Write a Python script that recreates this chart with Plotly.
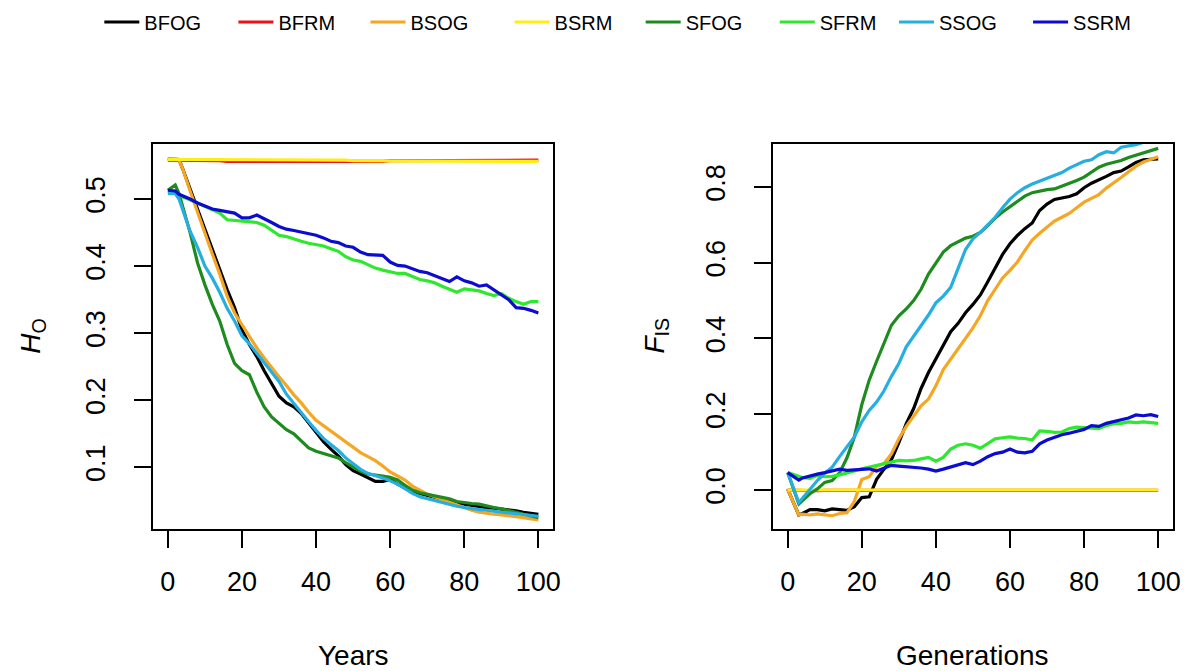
import plotly.graph_objects as go

# ---------------- data ----------------
X = [0, 2, 3, 4, 6, 8, 10, 12, 14, 16, 18, 20, 22, 24, 26, 28, 30, 32, 34, 36, 38, 40,
     42, 44, 46, 48, 50, 52, 54, 56, 58, 60, 62, 64, 66, 68, 70, 72, 74, 76, 78, 80,
     82, 84, 86, 88, 90, 92, 94, 96, 98, 100]

series_names = ["BFOG", "BFRM", "BSOG", "BSRM", "SFOG", "SFRM", "SSOG", "SSRM"]
series_colors = ["#000000", "#EE1111", "#F5A623", "#FFEE11", "#1E8B1E", "#2EE82E", "#26AEE0", "#0C0CD0"]

# Left panel: observed heterozygosity (Years)
ho_BFOG = [0.560, 0.560, 0.559, 0.545, 0.515, 0.484, 0.454, 0.424, 0.394, 0.365, 0.338, 0.305,
           0.283, 0.265, 0.244, 0.224, 0.206, 0.196, 0.190, 0.180, 0.166, 0.152, 0.138, 0.127,
           0.117, 0.104, 0.095, 0.090, 0.084, 0.079, 0.079, 0.082, 0.075, 0.069, 0.064, 0.061,
           0.058, 0.055, 0.052, 0.049, 0.047, 0.045, 0.043, 0.041, 0.040, 0.039, 0.038, 0.036,
           0.035, 0.033, 0.031, 0.030]
ho_BFRM = [0.558, 0.558, 0.558, 0.557, 0.557, 0.557, 0.557, 0.557, 0.557, 0.556, 0.556, 0.556,
           0.556, 0.556, 0.556, 0.555, 0.555, 0.555, 0.555, 0.555, 0.555, 0.556, 0.555, 0.555,
           0.556, 0.556, 0.556, 0.556, 0.556, 0.556, 0.556, 0.557, 0.557, 0.557, 0.557, 0.557,
           0.557, 0.557, 0.557, 0.557, 0.557, 0.557, 0.558, 0.558, 0.558, 0.558, 0.558, 0.558,
           0.558, 0.558, 0.558, 0.558]
ho_BSOG = [0.560, 0.560, 0.558, 0.545, 0.512, 0.480, 0.450, 0.418, 0.388, 0.355, 0.330, 0.312,
           0.294, 0.278, 0.263, 0.248, 0.235, 0.222, 0.208, 0.196, 0.182, 0.170, 0.162, 0.155,
           0.147, 0.138, 0.130, 0.122, 0.116, 0.110, 0.102, 0.093, 0.087, 0.081, 0.072, 0.066,
           0.060, 0.056, 0.052, 0.047, 0.043, 0.040, 0.036, 0.033, 0.031, 0.030, 0.029, 0.028,
           0.026, 0.025, 0.023, 0.022]
ho_BSRM = [0.559, 0.559, 0.559, 0.559, 0.559, 0.559, 0.559, 0.559, 0.558, 0.558, 0.558, 0.558,
           0.558, 0.558, 0.558, 0.558, 0.558, 0.558, 0.558, 0.558, 0.558, 0.558, 0.558, 0.558,
           0.558, 0.558, 0.557, 0.557, 0.557, 0.557, 0.557, 0.557, 0.557, 0.557, 0.557, 0.557,
           0.557, 0.557, 0.557, 0.557, 0.557, 0.556, 0.556, 0.556, 0.556, 0.556, 0.556, 0.556,
           0.556, 0.556, 0.556, 0.556]
ho_SFOG = [0.513, 0.521, 0.508, 0.490, 0.450, 0.405, 0.372, 0.343, 0.318, 0.283, 0.255, 0.244,
           0.238, 0.212, 0.190, 0.175, 0.165, 0.156, 0.150, 0.140, 0.129, 0.124, 0.121, 0.118,
           0.114, 0.107, 0.100, 0.094, 0.090, 0.089, 0.087, 0.085, 0.081, 0.073, 0.066, 0.062,
           0.060, 0.058, 0.056, 0.053, 0.049, 0.047, 0.046, 0.045, 0.042, 0.040, 0.038, 0.036,
           0.033, 0.030, 0.027, 0.025]
ho_SFRM = [0.510, 0.510, 0.507, 0.503, 0.499, 0.494, 0.488, 0.483, 0.479, 0.469, 0.468, 0.467,
           0.466, 0.465, 0.461, 0.453, 0.446, 0.444, 0.440, 0.437, 0.434, 0.432, 0.430, 0.426,
           0.422, 0.414, 0.409, 0.407, 0.402, 0.397, 0.394, 0.391, 0.389, 0.389, 0.385, 0.380,
           0.378, 0.375, 0.370, 0.366, 0.361, 0.366, 0.365, 0.363, 0.359, 0.356, 0.359, 0.352,
           0.347, 0.343, 0.347, 0.347]
ho_SSOG = [0.508, 0.508, 0.500, 0.485, 0.452, 0.428, 0.400, 0.382, 0.361, 0.337, 0.318, 0.296,
           0.284, 0.270, 0.256, 0.242, 0.228, 0.209, 0.195, 0.181, 0.168, 0.155, 0.143, 0.134,
           0.125, 0.114, 0.106, 0.097, 0.091, 0.088, 0.084, 0.080, 0.075, 0.068, 0.061, 0.056,
           0.053, 0.050, 0.047, 0.044, 0.042, 0.040, 0.038, 0.037, 0.036, 0.034, 0.033, 0.032,
           0.031, 0.030, 0.028, 0.027]
ho_SSRM = [0.513, 0.512, 0.507, 0.505, 0.500, 0.494, 0.489, 0.485, 0.483, 0.481, 0.479, 0.472,
           0.472, 0.476, 0.471, 0.465, 0.459, 0.455, 0.453, 0.451, 0.449, 0.446, 0.442, 0.437,
           0.435, 0.430, 0.428, 0.421, 0.417, 0.417, 0.416, 0.406, 0.401, 0.400, 0.396, 0.392,
           0.390, 0.386, 0.381, 0.377, 0.384, 0.378, 0.375, 0.370, 0.372, 0.365, 0.357, 0.350,
           0.338, 0.337, 0.334, 0.330]

# Right panel: inbreeding coefficient (Generations)
fis_BFOG = [0.002, -0.044, -0.066, -0.062, -0.052, -0.052, -0.055, -0.050, -0.052, -0.054, -0.044, -0.020,
            -0.018, 0.028, 0.055, 0.080, 0.125, 0.175, 0.215, 0.268, 0.310, 0.345, 0.380, 0.418,
            0.440, 0.468, 0.490, 0.515, 0.550, 0.585, 0.622, 0.650, 0.672, 0.690, 0.705, 0.738,
            0.755, 0.767, 0.770, 0.775, 0.782, 0.798, 0.810, 0.818, 0.828, 0.838, 0.842, 0.853,
            0.865, 0.872, 0.873, 0.874]
fis_BFRM = [0.000, -0.001, -0.001, -0.001, -0.001, -0.002, -0.001, -0.001, -0.002, -0.002, -0.001, -0.001,
            -0.002, -0.001, -0.001, -0.001, -0.002, -0.002, -0.001, -0.001, -0.001, -0.002, -0.002, -0.001,
            -0.001, -0.002, -0.002, -0.002, -0.001, -0.001, -0.002, -0.002, -0.002, -0.001, -0.001, -0.001,
            -0.002, -0.002, -0.001, -0.001, -0.001, -0.002, -0.002, -0.001, -0.001, -0.001, -0.002, -0.002,
            -0.001, -0.001, -0.001, -0.001]
fis_BSOG = [0.002, -0.044, -0.066, -0.064, -0.066, -0.063, -0.066, -0.068, -0.062, -0.060, -0.030, 0.028,
            0.035, 0.062, 0.070, 0.095, 0.135, 0.168, 0.195, 0.222, 0.240, 0.275, 0.318, 0.345,
            0.372, 0.398, 0.428, 0.460, 0.500, 0.530, 0.560, 0.580, 0.602, 0.632, 0.660, 0.678,
            0.695, 0.710, 0.720, 0.730, 0.745, 0.760, 0.770, 0.780, 0.797, 0.810, 0.825, 0.840,
            0.855, 0.866, 0.873, 0.880]
fis_BSRM = [0.000, 0.000, 0.000, 0.000, 0.000, 0.000, 0.000, 0.001, 0.000, 0.000, 0.000, 0.000,
            0.000, 0.000, 0.000, 0.000, 0.000, 0.000, 0.000, 0.000, -0.001, 0.000, 0.000, 0.000,
            0.000, 0.000, 0.000, 0.000, 0.000, 0.000, 0.000, 0.000, 0.000, 0.000, 0.000, 0.000,
            0.000, 0.000, 0.000, 0.000, 0.000, 0.000, 0.000, 0.000, 0.000, 0.000, 0.000, 0.000,
            0.000, 0.000, 0.000, 0.000]
fis_SFOG = [0.046, -0.010, -0.037, -0.028, -0.010, 0.003, 0.020, 0.025, 0.045, 0.085, 0.140, 0.225,
            0.290, 0.340, 0.385, 0.435, 0.460, 0.478, 0.500, 0.530, 0.570, 0.598, 0.628, 0.645,
            0.656, 0.665, 0.670, 0.680, 0.698, 0.718, 0.734, 0.748, 0.763, 0.776, 0.785, 0.790,
            0.793, 0.795, 0.802, 0.810, 0.817, 0.826, 0.840, 0.852, 0.860, 0.865, 0.870, 0.878,
            0.884, 0.890, 0.897, 0.902]
fis_SFRM = [0.046, 0.039, 0.035, 0.033, 0.031, 0.038, 0.035, 0.036, 0.040, 0.044, 0.050, 0.056,
            0.060, 0.066, 0.070, 0.074, 0.078, 0.077, 0.078, 0.082, 0.086, 0.076, 0.086, 0.108,
            0.118, 0.122, 0.118, 0.110, 0.122, 0.135, 0.138, 0.140, 0.137, 0.136, 0.132, 0.156,
            0.155, 0.152, 0.153, 0.162, 0.166, 0.165, 0.164, 0.162, 0.170, 0.175, 0.176, 0.180,
            0.178, 0.180, 0.178, 0.176]
fis_SSOG = [0.046, -0.007, -0.033, -0.022, 0.002, 0.025, 0.044, 0.060, 0.088, 0.115, 0.140, 0.180,
            0.210, 0.232, 0.262, 0.300, 0.334, 0.378, 0.405, 0.432, 0.462, 0.494, 0.512, 0.535,
            0.585, 0.635, 0.663, 0.680, 0.700, 0.720, 0.745, 0.768, 0.785, 0.798, 0.808, 0.815,
            0.822, 0.830, 0.838, 0.850, 0.860, 0.868, 0.872, 0.885, 0.893, 0.890, 0.905, 0.908,
            0.912, 0.918, 0.922, 0.926]
fis_SSRM = [0.046, 0.033, 0.026, 0.032, 0.038, 0.042, 0.046, 0.050, 0.055, 0.052, 0.053, 0.056,
            0.056, 0.050, 0.058, 0.065, 0.063, 0.062, 0.060, 0.058, 0.055, 0.050, 0.055, 0.061,
            0.066, 0.072, 0.067, 0.076, 0.088, 0.096, 0.100, 0.108, 0.100, 0.098, 0.102, 0.122,
            0.132, 0.140, 0.146, 0.150, 0.154, 0.160, 0.170, 0.168, 0.176, 0.180, 0.184, 0.190,
            0.198, 0.196, 0.199, 0.194]

x_ticks = [0, 20, 40, 60, 80, 100]
ho_ticks = [0.1, 0.2, 0.3, 0.4, 0.5]
fis_ticks = [0.0, 0.2, 0.4, 0.6, 0.8]

ho_data = [ho_BFOG, ho_BFRM, ho_BSOG, ho_BSRM, ho_SFOG, ho_SFRM, ho_SSOG, ho_SSRM]
fis_data = [fis_BFOG, fis_BFRM, fis_BSOG, fis_BSRM, fis_SFOG, fis_SFRM, fis_SSOG, fis_SSRM]

# ---------------- figure ----------------
W, H = 1194, 671
FONT = "Liberation Sans, Arial, sans-serif"
fig = go.Figure()

legend_line_start = [105, 240, 373, 518, 650, 785, 905, 1040]

for i, name in enumerate(series_names):
    leg = "legend" if i == 0 else f"legend{i+1}"
    fig.add_trace(go.Scatter(x=X, y=ho_data[i], mode="lines", name=name,
                             line=dict(color=series_colors[i], width=3.2),
                             xaxis="x", yaxis="y", legend=leg, showlegend=True))
for i, name in enumerate(series_names):
    fig.add_trace(go.Scatter(x=X, y=fis_data[i], mode="lines", name=name,
                             line=dict(color=series_colors[i], width=3.2),
                             xaxis="x2", yaxis="y2", showlegend=False))

xr = [-4, 104]
px_per = 3.73
def dom(tick0_px):
    a = tick0_px + xr[0] * px_per
    b = tick0_px + xr[1] * px_per
    return [a / W, b / W]

ydom = [1 - 529 / H, 1 - 144 / H]

axis_common = dict(showline=True, linecolor="black", linewidth=1.6, mirror=True,
                   ticks="outside", ticklen=17, tickwidth=1.6, tickcolor="black",
                   showgrid=False, zeroline=False,
                   tickfont=dict(family=FONT, size=27, color="black"))

layout = dict(
    width=W, height=H,
    margin=dict(l=0, r=0, t=0, b=0),
    paper_bgcolor="white", plot_bgcolor="white",
    xaxis=dict(domain=dom(169), range=xr, tickvals=x_ticks, anchor="y",
               ticklabelstandoff=11, **axis_common),
    yaxis=dict(domain=ydom, range=[0.008, 0.582], tickvals=ho_ticks,
               ticktext=[str(t) for t in ho_ticks], tickangle=-90, anchor="x",
               ticklabelstandoff=18, **axis_common),
    xaxis2=dict(domain=dom(793), range=xr, tickvals=x_ticks, anchor="y2",
                ticklabelstandoff=11, **axis_common),
    yaxis2=dict(domain=ydom, range=[-0.103, 0.9135], tickvals=fis_ticks,
                ticktext=["0.0", "0.2", "0.4", "0.6", "0.8"], tickangle=-90, anchor="x2",
                ticklabelstandoff=18, **axis_common),
)

for i in range(8):
    key = "legend" if i == 0 else f"legend{i+1}"
    layout[key] = dict(x=(legend_line_start[i] - 5) / W, xanchor="left",
                       y=1 - 22 / H, yanchor="middle", orientation="h",
                       bgcolor="rgba(0,0,0,0)", borderwidth=0,
                       font=dict(family=FONT, size=20, color="black"),
                       itemwidth=35)

fig.update_layout(**layout)

ann_font = dict(family=FONT, size=28, color="black")
fig.add_annotation(text="Years", x=(154 + 557) / 2 / W, y=1 - 655 / H, xref="paper", yref="paper",
                   showarrow=False, font=ann_font, xanchor="center", yanchor="middle")
fig.add_annotation(text="Generations", x=(778 + 1181) / 2 / W, y=1 - 655 / H, xref="paper", yref="paper",
                   showarrow=False, font=ann_font, xanchor="center", yanchor="middle")
fig.add_annotation(text="<i>H</i><sub>O</sub>", x=32 / W, y=1 - 336 / H, xref="paper", yref="paper",
                   showarrow=False, font=ann_font, textangle=-90, xanchor="center", yanchor="middle")
fig.add_annotation(text="<i>F</i><sub>IS</sub>", x=660 / W, y=1 - 336 / H, xref="paper", yref="paper",
                   showarrow=False, font=ann_font, textangle=-90, xanchor="center", yanchor="middle")

fig.write_html("out.html")
